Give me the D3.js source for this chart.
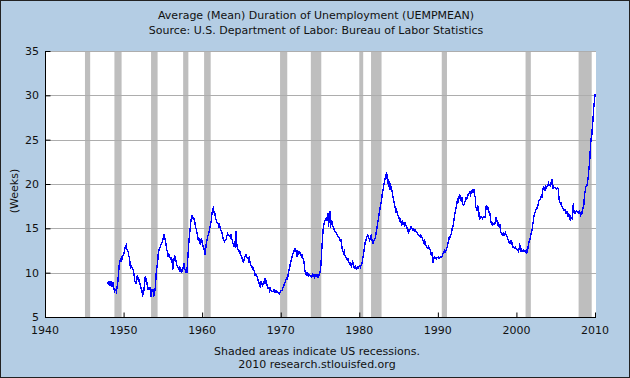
<!DOCTYPE html>
<html>
<head>
<meta charset="utf-8">
<title>UEMPMEAN</title>
<style type="text/css">
	html, body {
		margin: 0;
		padding: 0;
		background: #fff;
	}
	#chart text {
		font-family: "DejaVu Sans", Verdana, sans-serif;
		fill: #111;
	}
	.grid line {
		stroke: #adadad;
		stroke-width: 1;
	}
	.recession {
		fill: #bebebe;
	}
	.series {
		fill: none;
		stroke: #0000ff;
		stroke-width: 1.4;
		shape-rendering: crispEdges;
	}
</style>
</head>
<body>
<div id="chart"></div>
<script src="https://d3js.org/d3.v7.min.js"></script>
<script type="text/javascript">
	// monthly values (weeks), Jan 1948 .. Jan 2010
	var startYear = 1948;
	var monthlyValues = [
		8.9, 8.6, 9.0, 8.5, 8.8, 8.6, 9.0, 8.4, 8.9, 8.3, 7.9, 8.1,          // 1948
		8.1, 7.9, 8.3, 8.8, 9.6, 10.6, 11.2, 11.5, 11.3, 11.7, 11.6, 11.9,   // 1949
		12.0, 12.4, 12.75, 12.9, 13.1, 12.7, 12.5, 12.4, 11.9, 11.8, 10.8, 10.6,
		10.7, 10.6, 10.5, 10.2, 9.9, 9.0, 8.9, 8.8, 9.3, 9.7, 9.2, 9.5,      // 1951
		8.9, 8.8, 8.5, 8.2, 8.0, 7.3, 7.8, 8.0, 8.6, 9.5, 9.4, 9.2,
		8.6, 8.1, 8.3, 8.2, 8.4, 7.85, 7.3, 8.2, 7.9, 8.0, 7.3, 7.6,         // 1953
		8.0, 8.8, 10.1, 10.7, 11.1, 12.2, 12.5, 12.75, 12.9, 13.1, 13.3, 13.4,
		13.7, 14.0, 14.3, 13.9, 13.6, 13.1, 12.6, 12.4, 11.8, 12.1, 12.0, 11.7, // 1955
		11.4, 11.8, 11.4, 10.3, 11.0, 11.4, 12.0, 11.6, 11.3, 11.0, 10.7, 10.6,
		10.5, 10.3, 10.6, 10.4, 10.1, 10.3, 10.2, 10.6, 11.05, 10.5, 10.3, 10.0, // 1957
		10.6, 10.0, 11.4, 12.6, 13.7, 14.4, 15.2, 15.9, 16.5, 16.3, 16.1, 16.2,
		15.9, 15.6, 15.2, 14.9, 14.6, 14.1, 13.7, 13.9, 13.5, 13.3, 13.6, 13.9, // 1959
		13.4, 13.1, 12.8, 12.75, 12.0, 12.4, 13.1, 13.5, 13.9, 14.2, 14.4, 14.8,
		15.2, 15.5, 15.9, 16.7, 17.1, 17.25, 16.9, 16.5, 16.6, 16.0, 15.8, 15.6, // 1961
		15.6, 15.3, 15.5, 15.3, 14.9, 14.7, 14.6, 14.3, 13.9, 13.7, 13.5, 13.6,
		13.6, 13.9, 14.2, 14.4, 14.3, 14.25, 14.1, 14.0, 14.3, 13.8, 13.7, 13.3, // 1963
		13.1, 13.3, 13.0, 12.9, 14.7, 13.2, 12.6, 12.6, 12.5, 12.2, 12.3, 12.0,
		11.9, 11.6, 11.3, 11.2, 11.4, 11.7, 11.9, 12.0, 11.8, 11.6, 11.7, 11.4, // 1965
		11.6, 11.2, 10.9, 10.8, 10.7, 10.4, 10.5, 10.3, 10.1, 9.7, 9.8, 9.6,
		9.5, 9.3, 9.0, 8.8, 8.5, 8.4, 9.0, 8.8, 8.6, 8.8, 8.7, 9.1,          // 1967
		9.4, 9.0, 9.2, 8.6, 8.4, 8.2, 8.3, 8.0, 8.2, 8.0, 8.0, 7.9,
		7.9, 8.0, 7.85, 8.0, 7.9, 7.8, 7.9, 7.8, 7.7, 7.7, 7.6, 7.8,         // 1969
		7.9, 8.0, 8.0, 8.2, 8.4, 8.6, 8.8, 9.0, 9.2, 9.4, 9.3, 9.6,
		10.0, 10.4, 10.7, 11.1, 11.4, 11.7, 12.0, 12.2, 12.4, 12.6, 12.4, 12.6, // 1971
		12.3, 11.8, 12.5, 12.2, 12.4, 12.3, 12.1, 12.0, 11.8, 11.9, 11.6, 11.4,
		10.9, 10.1, 10.3, 9.7, 9.9, 10.0, 9.6, 9.8, 9.7, 9.6, 9.7, 9.5,      // 1973
		9.6, 9.8, 9.6, 9.7, 9.5, 9.7, 9.6, 9.7, 9.6, 9.8, 9.6, 9.7,
		10.0, 10.5, 11.5, 12.9, 14.0, 15.0, 15.4, 15.75, 15.9, 16.1, 16.0, 16.3, // 1975
		16.7, 15.1, 16.2, 16.9, 15.0, 15.6, 15.8, 15.4, 15.2, 15.0, 14.8, 14.6,
		14.6, 14.4, 14.3, 14.2, 14.05, 14.0, 13.9, 13.6, 13.7, 13.2, 12.6, 12.4, // 1977
		12.2, 12.4, 12.0, 11.9, 11.7, 11.6, 11.4, 11.5, 11.2, 11.0, 11.1, 10.8,
		10.7, 11.0, 11.2, 10.9, 10.6, 10.5, 10.8, 10.5, 10.4, 10.6, 10.5, 10.6, // 1979
		10.7, 10.8, 10.6, 10.9, 11.0, 11.4, 11.9, 12.4, 12.9, 13.4, 13.6, 13.9,
		14.1, 14.25, 14.0, 13.8, 13.6, 14.0, 14.2, 13.9, 13.5, 13.3, 13.6, 13.7, // 1981
		13.8, 14.2, 14.6, 15.0, 15.6, 16.0, 16.5, 16.9, 17.4, 17.8, 18.2, 18.8,
		19.3, 19.6, 20.1, 20.45, 20.8, 21.1, 21.2, 20.3, 20.1, 20.5, 19.3, 20.0, // 1983
		19.9, 19.1, 19.3, 18.7, 18.4, 18.0, 17.6, 17.3, 16.9, 17.1, 16.7, 16.5,
		16.3, 16.1, 15.9, 16.0, 15.6, 15.4, 15.7, 15.5, 15.6, 15.4, 15.7, 15.3, // 1985
		15.2, 15.0, 14.8, 14.6, 14.8, 14.7, 15.0, 15.2, 15.1, 14.9, 14.8, 14.9,
		14.8, 14.7, 14.8, 14.6, 14.5, 14.4, 14.3, 14.25, 14.1, 14.05, 14.2, 14.0, // 1987
		13.9, 13.7, 13.5, 13.3, 13.6, 13.4, 13.0, 12.9, 12.8, 12.7, 12.9, 12.6,
		12.6, 12.3, 12.0, 12.2, 11.8, 11.05, 11.7, 11.8, 11.6, 11.7, 11.6, 11.7, // 1989
		11.7, 11.8, 11.6, 11.7, 11.8, 11.7, 11.7, 12.0, 12.2, 12.4, 12.5, 12.3,
		12.5, 12.6, 12.8, 13.1, 13.5, 13.9, 13.8, 14.1, 14.25, 14.6, 15.0, 15.2, // 1991
		15.6, 16.2, 16.7, 17.0, 17.4, 17.8, 18.2, 18.0, 18.3, 18.9, 18.6, 18.2,
		18.1, 18.5, 17.8, 17.6, 17.7, 17.9, 18.1, 18.4, 18.3, 18.5, 18.75, 18.9, // 1993
		18.95, 19.1, 18.8, 19.0, 19.2, 19.3, 19.0, 19.4, 18.75, 18.6, 17.4, 17.2,
		17.4, 17.0, 17.5, 16.4, 16.0, 16.3, 16.2, 16.3, 16.1, 16.2, 16.3, 16.2, // 1995
		16.2, 16.9, 17.6, 17.1, 17.4, 17.3, 16.9, 16.5, 16.6, 15.7, 15.5, 15.4,
		15.6, 15.5, 15.4, 15.5, 15.8, 16.3, 15.9, 15.6, 15.3, 15.5, 15.2, 15.3, // 1997
		14.6, 14.5, 14.4, 14.1, 14.4, 14.2, 14.4, 14.5, 14.3, 14.2, 14.0, 13.7,
		13.6, 13.4, 13.3, 13.5, 13.6, 13.4, 13.0, 12.8, 12.9, 12.8, 12.9, 12.7, // 1999
		12.7, 12.6, 12.5, 12.4, 12.6, 13.3, 12.6, 12.4, 12.6, 12.5, 12.4, 12.5,
		12.4, 12.5, 12.3, 12.2, 12.3, 12.9, 12.8, 13.4, 13.6, 13.9, 14.3, 14.5, // 2001
		14.9, 15.5, 15.9, 16.5, 16.7, 16.9, 17.1, 17.2, 17.4, 17.6, 18.0, 18.2,
		18.3, 18.4, 18.7, 18.6, 19.3, 19.6, 19.4, 19.5, 19.2, 19.7, 19.6, 19.8, // 2003
		19.9, 20.1, 19.8, 19.9, 19.7, 20.2, 20.6, 19.6, 19.5, 19.7, 19.6, 19.6,
		19.5, 19.4, 19.5, 19.6, 19.5, 18.4, 18.0, 17.8, 18.0, 17.5, 17.4, 17.3, // 2005
		17.2, 17.0, 17.1, 16.9, 16.6, 16.9, 16.5, 16.7, 16.6, 16.1, 16.0, 16.3,
		16.2, 16.1, 16.8, 17.8, 16.7, 16.9, 16.6, 16.9, 17.0, 16.8, 16.9, 16.6, // 2007
		16.9, 16.7, 16.5, 16.8, 16.6, 17.0, 17.4, 17.7, 18.8, 19.2, 19.7, 19.8,
		19.9, 20.5, 21.0, 21.9, 22.7, 24.1, 25.1, 25.4, 26.4, 27.3, 28.6, 29.2, // 2009
		30.1                                                                   // 2010
	];

	// NBER recessions, peak .. trough
	var recessions = [
		["1945-02", "1945-10"], ["1948-11", "1949-10"], ["1953-07", "1954-05"],
		["1957-08", "1958-04"], ["1960-04", "1961-02"], ["1969-12", "1970-11"],
		["1973-11", "1975-03"], ["1980-01", "1980-07"], ["1981-07", "1982-11"],
		["1990-07", "1991-03"], ["2001-03", "2001-11"], ["2007-12", "2009-08"]
	];

	var yTicks = [5, 10, 15, 20, 25, 30, 35];
	var xTicks = [1940, 1950, 1960, 1970, 1980, 1990, 2000, 2010];

	var titleLines = [
		"Average (Mean) Duration of Unemployment (UEMPMEAN)",
		"Source: U.S. Department of Labor: Bureau of Labor Statistics"
	];
	var footLines = [
		"Shaded areas indicate US recessions.",
		"2010 research.stlouisfed.org"
	];

	var width = 630,
		height = 378,
		plot = {left: 45, right: 596, top: 51, bottom: 317};

	var parseMonth = d3.timeParse("%Y-%m");

	var data = monthlyValues.map(function(v, i) {
		return {date: new Date(startYear, i, 1), value: v};
	});

	var x = d3.scaleTime()
		.domain([new Date(1940, 0, 1), new Date(2010, 0, 1)])
		.range([plot.left, 595]);

	var y = d3.scaleLinear()
		.domain([5, 35])
		.range([plot.bottom, plot.top]);

	var svg = d3.select("#chart")
		.append("svg")
		.attr("width", width)
		.attr("height", height);

	// outer background + frame
	svg.append("rect")
		.attr("x", 0.5).attr("y", 0.5)
		.attr("width", width - 1).attr("height", height - 1)
		.attr("fill", "#b4cde4")
		.attr("stroke", "#222");

	// plot area
	svg.append("rect")
		.attr("x", plot.left).attr("y", plot.top)
		.attr("width", plot.right - plot.left)
		.attr("height", plot.bottom - plot.top)
		.attr("fill", "#fff");

	// recession shading
	svg.append("g")
		.selectAll("rect")
		.data(recessions)
		.enter()
		.append("rect")
		.attr("class", "recession")
		.attr("x", function(d) { return x(parseMonth(d[0])); })
		.attr("width", function(d) { return x(parseMonth(d[1])) - x(parseMonth(d[0])); })
		.attr("y", plot.top)
		.attr("height", plot.bottom - plot.top);

	// horizontal grid
	svg.append("g")
		.attr("class", "grid")
		.selectAll("line")
		.data(yTicks.slice(1))
		.enter()
		.append("line")
		.attr("x1", plot.left)
		.attr("x2", plot.right)
		.attr("y1", function(d) { return Math.round(y(d)) + 0.5; })
		.attr("y2", function(d) { return Math.round(y(d)) + 0.5; });

	// the series
	var line = d3.line()
		.x(function(d) { return x(d.date); })
		.y(function(d) { return y(d.value); });

	svg.append("path")
		.datum(data)
		.attr("class", "series")
		.attr("d", line);

	// y axis: ticks point inward, labels on the left
	var yAxis = svg.append("g")
		.attr("transform", "translate(" + (plot.left + 0.5) + ",0)")
		.call(d3.axisRight(y).tickValues(yTicks).tickSize(5).tickFormat(""));
	yAxis.select(".domain").remove();
	yAxis.selectAll(".tick line").attr("stroke", "#000");

	svg.append("g")
		.selectAll("text")
		.data(yTicks)
		.enter()
		.append("text")
		.attr("x", plot.left - 6)
		.attr("y", function(d) { return y(d) + 4; })
		.attr("text-anchor", "end")
		.attr("font-size", "11px")
		.text(function(d) { return d; });

	// x axis: ticks point up into the plot
	var xAxis = svg.append("g")
		.attr("transform", "translate(0," + (plot.bottom + 0.5) + ")")
		.call(d3.axisTop(x)
			.tickValues(xTicks.map(function(yr) { return new Date(yr, 0, 1); }))
			.tickSize(5)
			.tickFormat(""));
	xAxis.select(".domain").remove();
	xAxis.selectAll(".tick line").attr("stroke", "#000");

	svg.append("g")
		.selectAll("text")
		.data(xTicks)
		.enter()
		.append("text")
		.attr("x", function(d) { return x(new Date(d, 0, 1)); })
		.attr("y", 334)
		.attr("text-anchor", "middle")
		.attr("font-size", "11px")
		.text(function(d) { return d; });

	// axis lines
	svg.append("line")
		.attr("x1", plot.left + 0.5).attr("x2", plot.left + 0.5)
		.attr("y1", plot.top).attr("y2", plot.bottom + 1)
		.attr("stroke", "#000");
	svg.append("line")
		.attr("x1", plot.left).attr("x2", plot.right)
		.attr("y1", plot.bottom + 0.5).attr("y2", plot.bottom + 0.5)
		.attr("stroke", "#000");

	// y label
	svg.append("text")
		.attr("transform", "translate(18,191) rotate(-90)")
		.attr("text-anchor", "middle")
		.attr("font-size", "11px")
		.text("(Weeks)");

	// titles
	svg.append("g")
		.selectAll("text")
		.data(titleLines)
		.enter()
		.append("text")
		.attr("x", 316)
		.attr("y", function(d, i) { return 19 + i * 15; })
		.attr("text-anchor", "middle")
		.attr("font-size", "11px")
		.text(function(d) { return d; });

	svg.append("g")
		.selectAll("text")
		.data(footLines)
		.enter()
		.append("text")
		.attr("x", 317)
		.attr("y", function(d, i) { return 355 + i * 13; })
		.attr("text-anchor", "middle")
		.attr("font-size", "11px")
		.text(function(d) { return d; });
</script>
</body>
</html>
